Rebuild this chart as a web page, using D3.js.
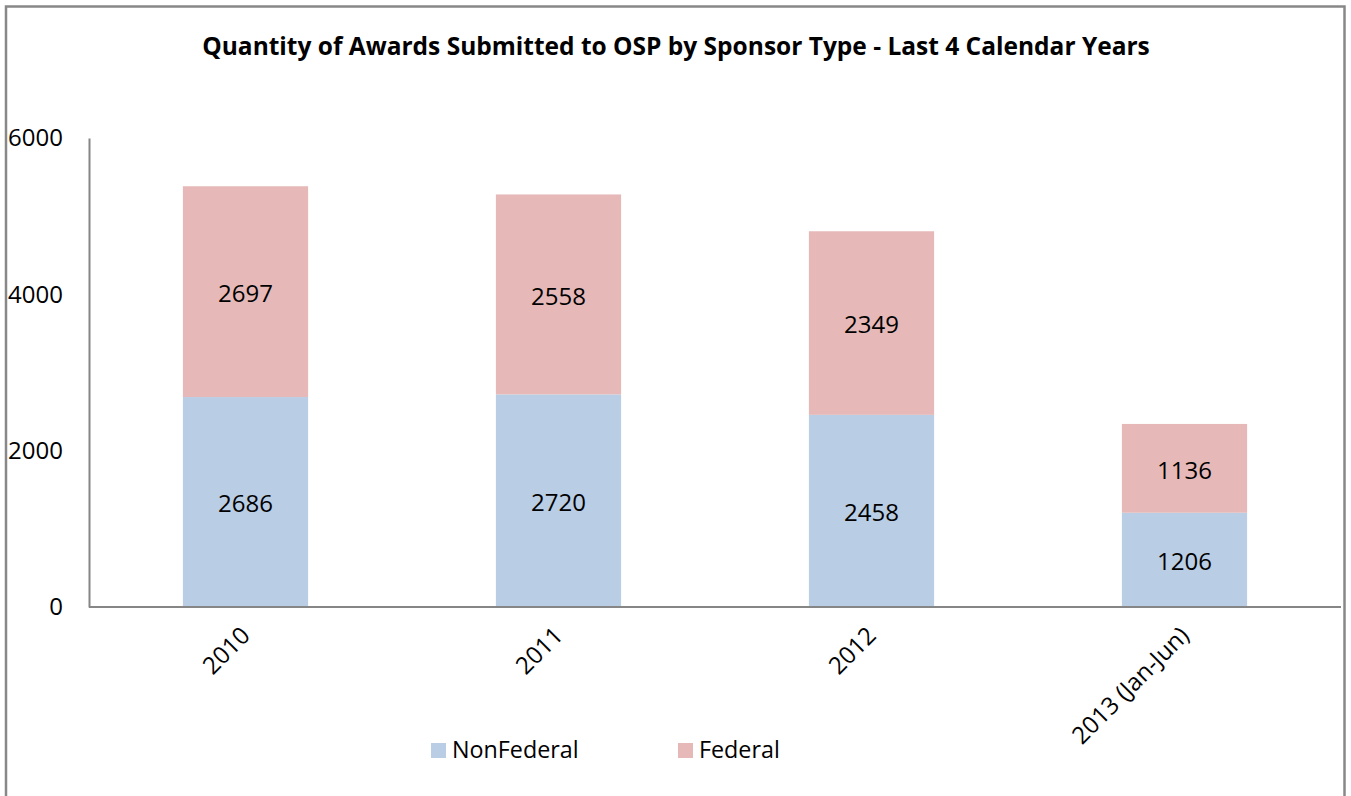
<!DOCTYPE html>
<html><head><meta charset="utf-8">
<script src="https://cdn.jsdelivr.net/npm/d3@7"></script>
<style>body{margin:0;background:#fff;}svg{display:block;font-family:"Open Sans",sans-serif;}</style>
</head><body>
<svg id="c" width="1351" height="796"></svg>
<script>
const categories = ["2010", "2011", "2012", "2013 (Jan-Jun)"];
const nonFederal = [2686, 2720, 2458, 1206];
const federal = [2697, 2558, 2349, 1136];
const seriesNames = ["NonFederal", "Federal"];
const seriesColors = ["#B9CDE5", "#E6B9B8"];
const yTicks = [0, 2000, 4000, 6000];
const title = "Quantity of Awards Submitted to OSP by Sponsor Type - Last 4 Calendar Years";

(function(){
const svg = d3.select("#c");
svg.append("rect").attr("x", 6).attr("y", 6.5).attr("width", 1338.5).attr("height", 800)
  .attr("fill", "#fff").attr("stroke", "#888").attr("stroke-width", 2.5);

const pLeft = 89, pRight = 1341, pTop = 138, pBottom = 607;
const x = d3.scaleBand().domain(categories).range([pLeft, pRight]).paddingInner(0.6).paddingOuter(0.3);
const y = d3.scaleLinear().domain([0, 6000]).range([pBottom, pTop]);

svg.append("text").attr("x", 676).attr("y", 55).attr("text-anchor", "middle")
  .attr("font-weight", "bold").attr("font-size", 24.5).attr("fill", "#000").text(title);

const rows = categories.map((c, i) => ({cat: c, NonFederal: nonFederal[i], Federal: federal[i]}));
const stack = d3.stack().keys(seriesNames)(rows);

stack.forEach((s, si) => {
  const g = svg.append("g");
  g.selectAll("rect").data(s).join("rect")
    .attr("x", d => x(d.data.cat)).attr("width", x.bandwidth())
    .attr("y", d => y(d[1])).attr("height", d => y(d[0]) - y(d[1]))
    .attr("fill", seriesColors[si]);
  g.selectAll("text").data(s).join("text")
    .attr("x", d => x(d.data.cat) + x.bandwidth() / 2)
    .attr("y", d => (y(d[0]) + y(d[1])) / 2 + 2)
    .attr("dy", "0.35em").attr("text-anchor", "middle").attr("font-size", 24)
    .text(d => d[1] - d[0]);
});

const ya = svg.append("g").attr("transform", `translate(${pLeft},0)`)
  .call(d3.axisLeft(y).tickValues(yTicks).tickSize(0).tickPadding(26).tickFormat(d3.format("d")));
ya.select(".domain").attr("stroke", "#868686").attr("stroke-width", 2);
ya.selectAll("text").attr("font-size", 24).attr("font-family", "Open Sans, sans-serif").attr("fill", "#000");

const xa = svg.append("g").attr("transform", `translate(0,${pBottom})`)
  .call(d3.axisBottom(x).tickSize(0).tickPadding(0));
xa.select(".domain").attr("d", `M${pLeft},0H${pRight}`).attr("stroke", "#868686").attr("stroke-width", 2);
xa.selectAll("text").attr("font-size", 24).attr("font-family", "Open Sans, sans-serif").attr("fill", "#000")
  .attr("text-anchor", "end").attr("dy", 0)
  .attr("transform", "translate(6,30) rotate(-45)");

const legX = [431, 678];
seriesNames.forEach((n, i) => {
  svg.append("rect").attr("x", legX[i]).attr("y", 743).attr("width", 15).attr("height", 15).attr("fill", seriesColors[i]);
  svg.append("text").attr("x", legX[i] + 21).attr("y", 758).attr("font-size", 23.3).text(n);
});
})();
</script>
</body></html>
